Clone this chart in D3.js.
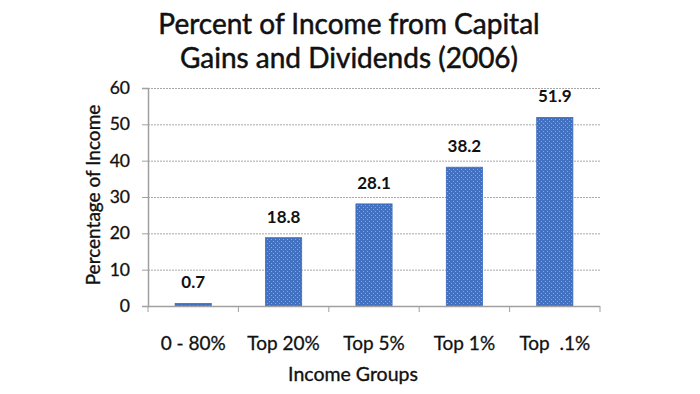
<!DOCTYPE html>
<html>
<head>
<meta charset="utf-8">
<script src="https://cdn.jsdelivr.net/npm/d3@7"></script>
<style>
  body { margin: 0; background: #fff; }
  svg { display: block; }
</style>
</head>
<body>
<div id="chart"></div>
<script>
const categories = ['0 - 80%', 'Top 20%', 'Top 5%', 'Top 1%', 'Top  .1%']
const values = [0.7, 18.8, 28.1, 38.2, 51.9]
const yTicks = [0, 10, 20, 30, 40, 50, 60]
const titleLines = ['Percent of Income from Capital', 'Gains and Dividends (2006)']

const width = 700
const height = 394
const margin = { top: 88, right: 100, bottom: 88, left: 148 }
const innerWidth = width - margin.left - margin.right
const innerHeight = height - margin.top - margin.bottom
const font = 'Lato, "Open Sans", sans-serif'
const ink = '#111'

const svg = d3.select('#chart')
  .append('svg')
  .attr('width', width)
  .attr('height', height)
  .style('font-family', font)

// dotted texture like the original bars
const defs = svg.append('defs')
const pat = defs.append('pattern')
  .attr('id', 'barfill')
  .attr('patternUnits', 'userSpaceOnUse')
  .attr('width', 4)
  .attr('height', 4)
pat.append('rect').attr('width', 4).attr('height', 4).attr('fill', '#4271c2')
pat.append('rect').attr('x', 1).attr('y', 1).attr('width', 1).attr('height', 1).attr('fill', '#86a6dc')
pat.append('rect').attr('x', 3).attr('y', 3).attr('width', 1).attr('height', 1).attr('fill', '#86a6dc')

const x = d3.scaleBand().domain(categories).range([0, innerWidth]).paddingInner(0.6).paddingOuter(0.3)
const y = d3.scaleLinear().domain([0, 60]).range([innerHeight, 0])

const chart = svg.append('g').attr('transform', `translate(${margin.left},${margin.top})`)

// gridlines
chart.append('g')
  .selectAll('line')
  .data(yTicks.filter((d) => d > 0))
  .join('line')
  .attr('x1', 0)
  .attr('x2', innerWidth)
  .attr('y1', (d) => y(d) + 0.5)
  .attr('y2', (d) => y(d) + 0.5)
  .attr('stroke', '#a8a8a8')
  .attr('stroke-width', 1)
  .attr('stroke-dasharray', '2 1')

// y axis
const yAxis = chart.append('g')
  .call(d3.axisLeft(y).tickValues(yTicks).tickSize(6).tickPadding(12))
yAxis.select('.domain').attr('stroke', '#a0a0a0').attr('stroke-width', 1.5)
yAxis.selectAll('.tick line').attr('stroke', '#a0a0a0')
yAxis.selectAll('.tick text')
  .attr('font-size', 17.5)
  .attr('fill', ink)
  .attr('stroke', ink)
  .attr('stroke-width', 0.3)
  .attr('font-family', font)

// bars
chart.append('g')
  .selectAll('rect')
  .data(values)
  .join('rect')
  .attr('x', (d, i) => x(categories[i]))
  .attr('y', (d) => y(d))
  .attr('width', x.bandwidth())
  .attr('height', (d) => y(0) - y(d))
  .attr('fill', 'url(#barfill)')
  .attr('stroke', '#3a6bc0')
  .attr('stroke-width', 0.8)

// x axis
const xAxis = chart.append('g').attr('transform', `translate(0,${innerHeight})`)
xAxis.append('line')
  .attr('x1', 0)
  .attr('x2', innerWidth)
  .attr('y1', 0.5)
  .attr('y2', 0.5)
  .attr('stroke', '#a0a0a0')
  .attr('stroke-width', 1.5)
xAxis.selectAll('line.tk')
  .data(d3.range(categories.length + 1))
  .join('line')
  .attr('class', 'tk')
  .attr('x1', (i) => i * innerWidth / categories.length)
  .attr('x2', (i) => i * innerWidth / categories.length)
  .attr('y1', 0)
  .attr('y2', 6)
  .attr('stroke', '#a0a0a0')
xAxis.selectAll('text')
  .data(categories)
  .join('text')
  .attr('x', (d) => x(d) + x.bandwidth() / 2)
  .attr('y', 44)
  .attr('text-anchor', 'middle')
  .attr('font-size', 19)
  .attr('fill', ink)
  .attr('stroke', ink)
  .attr('stroke-width', 0.3)
  .style('white-space', 'pre')
  .text((d) => d)

// value labels
chart.append('g')
  .selectAll('text')
  .data(values)
  .join('text')
  .attr('x', (d, i) => x(categories[i]) + x.bandwidth() / 2)
  .attr('y', (d) => y(d) - 15)
  .attr('text-anchor', 'middle')
  .attr('font-size', 17)
  .attr('font-weight', 'bold')
  .attr('fill', ink)
  .text((d) => d.toFixed(1))

// axis titles
svg.append('text')
  .attr('transform', `translate(100,${margin.top + innerHeight / 2 - 2}) rotate(-90)`)
  .attr('text-anchor', 'middle')
  .attr('font-size', 19)
  .attr('fill', ink)
  .attr('stroke', ink)
  .attr('stroke-width', 0.35)
  .text('Percentage of Income')

svg.append('text')
  .attr('x', 353)
  .attr('y', 381)
  .attr('text-anchor', 'middle')
  .attr('font-size', 19.5)
  .attr('fill', ink)
  .attr('stroke', ink)
  .attr('stroke-width', 0.35)
  .text('Income Groups')

// title
svg.append('g')
  .selectAll('text')
  .data(titleLines)
  .join('text')
  .attr('x', 349)
  .attr('y', (d, i) => 34 + i * 34)
  .attr('text-anchor', 'middle')
  .attr('font-size', 28)
  .attr('fill', ink)
  .attr('stroke', ink)
  .attr('stroke-width', 0.5)
  .text((d) => d)
</script>
</body>
</html>
